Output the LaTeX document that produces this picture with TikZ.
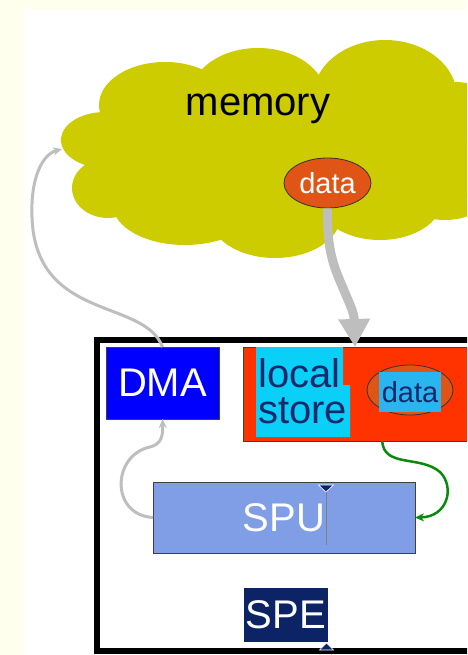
\documentclass[tikz,border=0pt]{standalone}
\usepackage{fontspec}
\setmainfont{Liberation Sans}
\usetikzlibrary{arrows.meta,shapes.geometric}

\definecolor{cream}{HTML}{FFFFEE}
\definecolor{cloudc}{HTML}{CCCC00}
\definecolor{dataorange}{HTML}{E05515}
\definecolor{lsred}{HTML}{FF3300}
\definecolor{lscyan}{HTML}{0AD0F7}
\definecolor{navytext}{HTML}{15296B}
\definecolor{dmablue}{HTML}{0000FF}
\definecolor{spublue}{HTML}{7F9EE6}
\definecolor{spenavy}{HTML}{0C2466}
\definecolor{hilite}{HTML}{29B5F0}
\definecolor{arrowgray}{HTML}{BEBEBE}
\definecolor{flowgreen}{HTML}{0A8A0A}

\begin{document}
\begin{tikzpicture}[x=1pt,y=-1pt,
  unitbox/.style={draw=black!75, line width=0.8pt, inner sep=0pt, outer sep=0pt, anchor=north west},
  bigtext/.style={font=\fontsize{40}{36}\selectfont},
  smalltext/.style={font=\fontsize{29}{32}\selectfont},
  lobe/.style={fill=cloudc},
  thinflow/.style={line width=3pt, arrowgray, -{Stealth[length=9pt,width=8pt]}},
]
\useasboundingbox (0,0) rectangle (467,655);
\clip (0,0) rectangle (467,655);

% page background
\fill[cream] (0,0) rectangle (467,655);
\fill[white] (24,9) rectangle (467,655);

% memory cloud built from overlapping lobes
\fill[lobe] (265,150) ellipse [x radius=175, y radius=70];
\fill[lobe] (105,140) ellipse [x radius=44, y radius=28];
\fill[lobe] (108,188) ellipse [x radius=36, y radius=30];
\fill[lobe] (165,105) ellipse [x radius=66, y radius=43];
\fill[lobe] (258,97) ellipse [x radius=68, y radius=49];
\fill[lobe] (385,97) ellipse [x radius=72, y radius=57];
\fill[lobe] (455,140) ellipse [x radius=60, y radius=58];
\fill[lobe] (185,205) ellipse [x radius=72, y radius=40];
\fill[lobe] (275,215) ellipse [x radius=66, y radius=43];
\fill[lobe] (380,200) ellipse [x radius=62, y radius=40];
\fill[lobe] (445,178) ellipse [x radius=55, y radius=42];

\node[bigtext, anchor=base] (memlabel) at (258,116) {memory};
\node[ellipse, draw=black!80, line width=0.8pt, fill=dataorange, text=white,
      minimum width=87pt, minimum height=50pt, inner sep=0pt, smalltext]
      (cdata) at (327.5,183) {data};
\coordinate (memleft) at (62,149);

% SPE frame
\draw[line width=6pt] (480,340) -- (97,340) -- (97,651) -- (480,651);

% DMA unit
\node[unitbox, fill=dmablue, text=white, bigtext, minimum width=113pt, minimum height=72pt]
      (dma) at (106,347) {DMA};

% local store (label base is the baseline of its last line)
\node[unitbox, fill=lsred, minimum width=224pt, minimum height=94pt] (lstore) at (243,347) {};
\fill[lscyan] (256,347) -- (343,347) -- (343,385) -- (350,385) -- (350,437) -- (256,437) -- cycle;
\node[bigtext, text=navytext, align=left, anchor=base west, inner sep=0pt]
      (lslabel) at (258,423) {local\\store};
\node[ellipse, draw=black!80, line width=0.8pt, fill=dataorange,
      minimum width=86pt, minimum height=50pt, inner sep=0pt] (ldata) at (410,390) {};
\node[fill=hilite, text=navytext, smalltext, minimum width=62pt, minimum height=40pt,
      inner sep=0pt] (ldatatext) at (410,392) {data};

% SPU
\node[unitbox, fill=spublue, text=white, bigtext, minimum width=262pt, minimum height=71pt]
      (spu) at (153,482) {SPU};
\draw[gray, line width=0.8pt] (326,486) -- (326,545);
\fill[spenavy, draw=white, line width=0.6pt] (318.5,485) -- (333.5,485) -- (326,492) -- cycle;

% SPE label
\node[unitbox, draw=none, fill=spenavy, text=white, bigtext, minimum width=84pt, minimum height=54pt]
      (spe) at (244,588) {SPE};
\fill[spenavy, draw=white, line width=0.6pt] (319.5,650) -- (333.5,650) -- (326.5,643) -- cycle;

% transfers
\draw[line width=9pt, arrowgray, -{Triangle[length=28pt,width=30pt]}]
  (cdata.south) .. controls (327,250) and (333,265) .. (343,288)
  .. controls (350,305) and (354,312) .. (lstore.north);
\draw[thinflow] (dma.north) .. controls (145,300) and (45,320) .. (33,230)
  .. controls (28,185) and (40,155) .. (memleft);
\draw[thinflow] (spu.west) .. controls (110,515) and (112,455) .. (150,447)
  .. controls (162,444) and (163,435) .. (dma.south);
\draw[line width=2.5pt, flowgreen, -{Stealth[length=9pt,width=8pt]}]
  (lstore.-60) .. controls (384,468) and (420,455) .. (440,472)
  .. controls (455,487) and (448,517) .. (spu.east);
\end{tikzpicture}
\end{document}
